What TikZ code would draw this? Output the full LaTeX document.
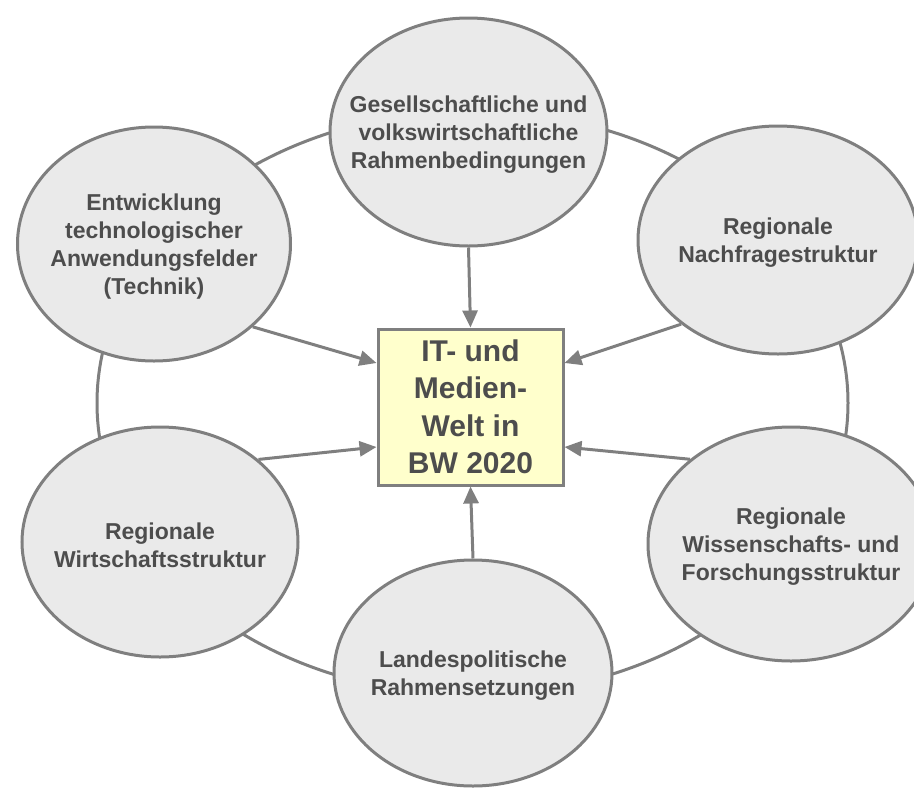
\documentclass[tikz,border=0pt]{standalone}
\usepackage{fontspec}
\setmainfont{Liberation Sans}
\usetikzlibrary{shapes.geometric,arrows.meta}
\definecolor{rimgray}{HTML}{7F7F7F}
\definecolor{bubble}{HTML}{EAEAEA}
\definecolor{ink}{HTML}{4D4D4D}
\definecolor{paleyellow}{HTML}{FFFFCC}
\tikzset{
  factor/.style={ellipse, draw=rimgray, fill=bubble, line width=3pt, inner sep=0pt},
  factortext/.style={inner sep=0pt, yshift=-3pt, text=ink, align=center,
    font=\fontsize{23}{28}\selectfont\bfseries},
  core/.style={rectangle, draw=rimgray, fill=paleyellow, line width=3pt, inner sep=0pt,
    minimum width=185pt, minimum height=156pt, text=ink, align=center,
    font=\fontsize{30}{37.5}\selectfont\bfseries},
  influence/.style={draw=rimgray, line width=3pt, -{Triangle[length=17pt,width=15pt]}},
  ring/.style={draw=rimgray, line width=3pt}
}
\begin{document}
\begin{tikzpicture}[x=1pt, y=-1pt]
\useasboundingbox (0,0) rectangle (914,793);
% connecting ring behind the factors
\path[ring] (472.5,403) ellipse [x radius=375.5pt, y radius=292pt];

% central topic
\node[core] (box) at (470.5,407) {IT- und\\Medien-\\Welt in\\BW 2020};

% surrounding factors (fixed-size ellipses, text set as a centred label)
\node[factor, minimum width=277pt, minimum height=228pt,
  label={[factortext]center:Gesellschaftliche und\\volkswirtschaftliche\\Rahmenbedingungen}]
  (gs) at (468.5,132) {};
\node[factor, minimum width=273pt, minimum height=234pt,
  label={[factortext]center:Entwicklung\\technologischer\\Anwendungsfelder\\(Technik)}]
  (tech) at (154,244) {};
\node[factor, minimum width=280pt, minimum height=228pt,
  label={[factortext]center:Regionale\\Nachfragestruktur}]
  (nach) at (778,240) {};
\node[factor, minimum width=276pt, minimum height=230pt,
  label={[factortext]center:Regionale\\Wirtschaftsstruktur}]
  (wirt) at (160,542) {};
\node[factor, minimum width=286pt, minimum height=234pt,
  label={[factortext]center:Regionale\\Wissenschafts- und\\Forschungsstruktur}]
  (wiss) at (791,544) {};
\node[factor, minimum width=278pt, minimum height=226pt,
  label={[factortext]center:Landespolitische\\Rahmensetzungen}]
  (land) at (473,673) {};

% influences on the centre
\draw[influence] (gs.south) -- (box.north);
\draw[influence] (tech.-40) -- ([yshift=44pt]box.west);
\draw[influence] (wirt.40) -- ([yshift=-40pt]box.west);
\draw[influence] (nach.-139) -- ([yshift=44pt]box.east);
\draw[influence] (wiss.140) -- ([yshift=-40pt]box.east);
\draw[influence] (land.north) -- (box.south);
\end{tikzpicture}
\end{document}
